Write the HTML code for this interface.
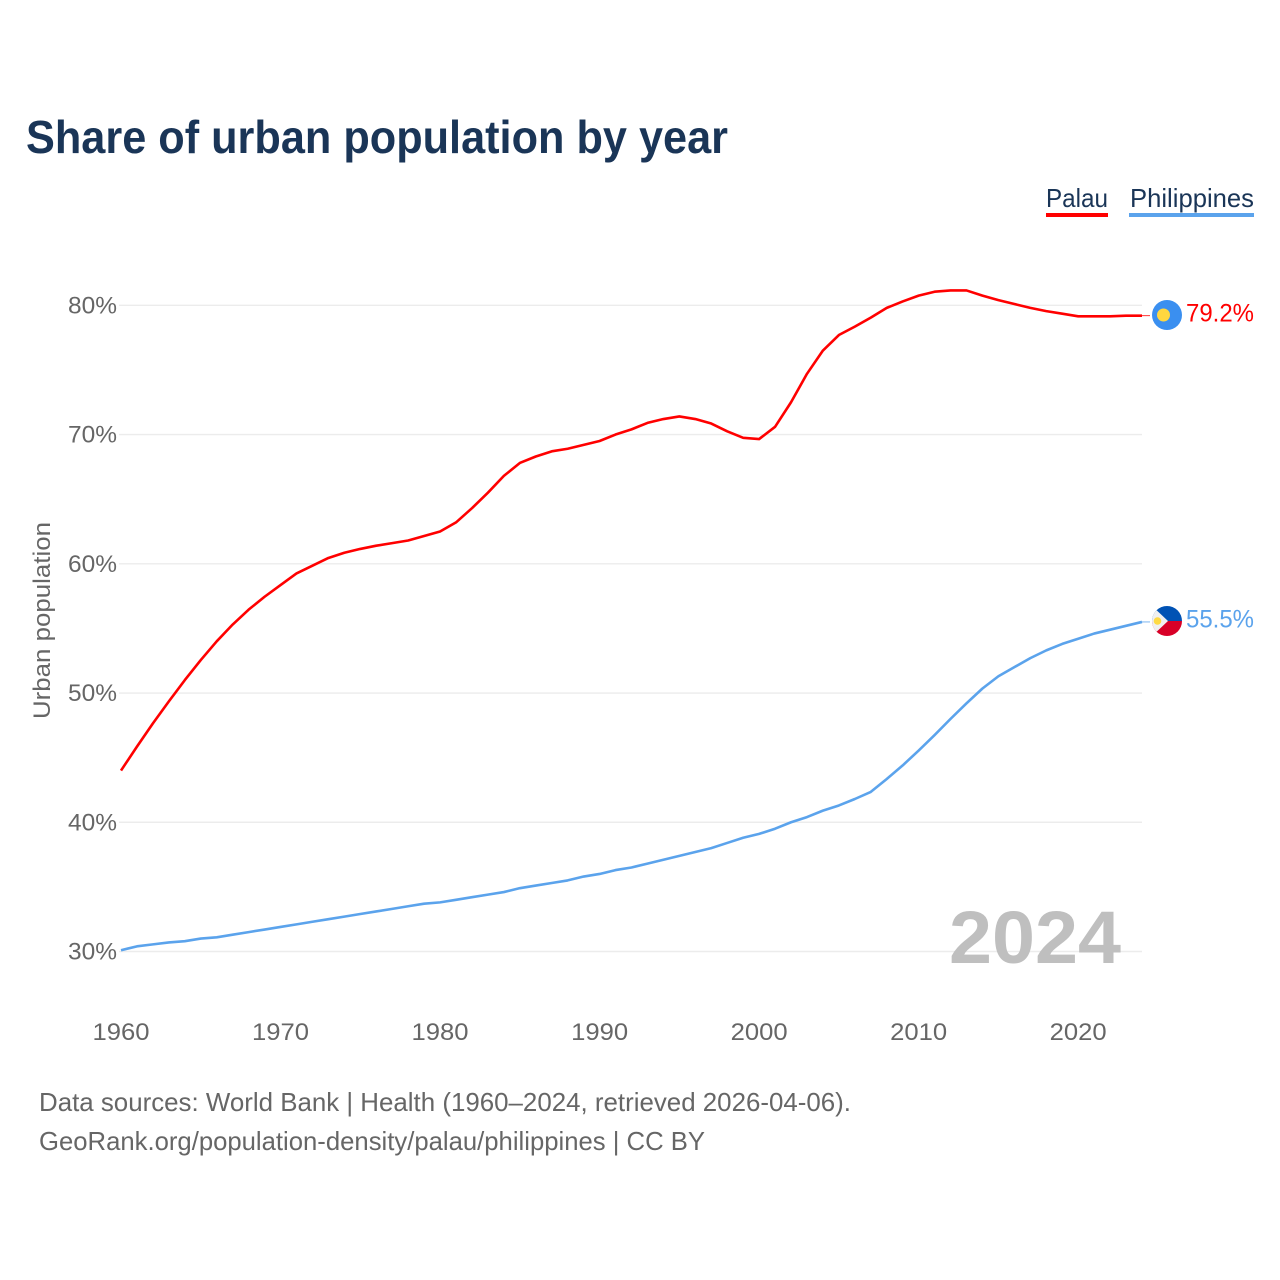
<!DOCTYPE html>
<html lang="en">
<head>
<meta charset="utf-8">
<title>Share of urban population by year</title>
<style>
html,body{margin:0;padding:0;background:#fff;}
svg{display:block;font-family:"Liberation Sans",sans-serif;}
</style>
</head>
<body>
<svg id="chart" width="1280" height="1280" viewBox="0 0 1280 1280" xmlns="http://www.w3.org/2000/svg">
  <rect x="0" y="0" width="1280" height="1280" fill="#ffffff"/>
  <text x="26" y="153" font-size="46" font-weight="700" fill="#1a3557" textLength="702" lengthAdjust="spacingAndGlyphs">Share of urban population by year</text>

  <g>
    <text x="1046" y="207" font-size="26" fill="#1a3557" textLength="62" lengthAdjust="spacingAndGlyphs">Palau</text>
    <rect x="1046" y="213" width="62" height="4" fill="#ff0000"/>
  </g>
  <g>
    <text x="1130" y="207" font-size="26" fill="#1a3557" textLength="124" lengthAdjust="spacingAndGlyphs">Philippines</text>
    <rect x="1129" y="213" width="125" height="4" fill="#5ba3ec"/>
  </g>

  <g id="grid"></g>
  <g id="y-ticks"></g>
  <g id="x-ticks"></g>
  <text transform="translate(50,620.5) rotate(-90)" text-anchor="middle" font-size="24" fill="#666666" textLength="197" lengthAdjust="spacingAndGlyphs">Urban population</text>

  <text x="949" y="963" font-size="74" font-weight="700" fill="#bfbfbf" textLength="172" lengthAdjust="spacingAndGlyphs">2024</text>

  <g id="series"></g>

  <g id="palau-end">
    <circle cx="1167" cy="315" r="15" fill="#3a8ff0"/>
    <circle cx="1163.5" cy="315" r="6.5" fill="#ffd740"/>
    <text id="palau-value" x="1186" y="321.5" font-size="25" fill="#ff0000" textLength="68" lengthAdjust="spacingAndGlyphs">79.2%</text>
  </g>
  <g id="philippines-end">
    <clipPath id="ph-clip"><circle cx="1167" cy="621" r="15"/></clipPath>
    <g clip-path="url(#ph-clip)">
      <rect x="1152" y="606" width="30" height="15" fill="#0052b4"/>
      <rect x="1152" y="621" width="30" height="15" fill="#d80027"/>
      <polygon points="1150,604 1168,621 1150,638" fill="#f0f0f0"/>
      <circle cx="1157.5" cy="621" r="3.8" fill="#ffda44"/>
    </g>
    <text id="philippines-value" x="1186" y="627.5" font-size="25" fill="#5ba3ec" textLength="68" lengthAdjust="spacingAndGlyphs">55.5%</text>
  </g>

  <text x="39" y="1111" font-size="26" fill="#666666" textLength="812" lengthAdjust="spacingAndGlyphs">Data sources: World Bank | Health (1960–2024, retrieved 2026-04-06).</text>
  <text x="39" y="1150" font-size="26" fill="#666666" textLength="666" lengthAdjust="spacingAndGlyphs">GeoRank.org/population-density/palau/philippines | CC BY</text>
</svg>
<script>
const startYear = 1960;
const palauValues = [44.0,45.85,47.65,49.35,51.0,52.55,54.0,55.3,56.45,57.45,58.35,59.25,59.85,60.45,60.85,61.15,61.4,61.6,61.8,62.15,62.5,63.2,64.3,65.5,66.8,67.8,68.3,68.7,68.9,69.2,69.5,70.0,70.4,70.9,71.2,71.4,71.2,70.85,70.25,69.75,69.65,70.6,72.5,74.7,76.5,77.7,78.35,79.05,79.8,80.3,80.75,81.05,81.15,81.15,80.75,80.4,80.1,79.8,79.55,79.35,79.15,79.15,79.15,79.2,79.2];
const philippinesValues = [30.1,30.4,30.55,30.7,30.8,31.0,31.1,31.3,31.5,31.7,31.9,32.1,32.3,32.5,32.7,32.9,33.1,33.3,33.5,33.7,33.8,34.0,34.2,34.4,34.6,34.9,35.1,35.3,35.5,35.8,36.0,36.3,36.5,36.8,37.1,37.4,37.7,38.0,38.4,38.8,39.1,39.5,40.0,40.4,40.9,41.3,41.8,42.35,43.35,44.4,45.55,46.75,48.0,49.2,50.35,51.3,52.0,52.7,53.3,53.8,54.2,54.6,54.9,55.2,55.5];
const yTickValues = [30,40,50,60,70,80];
const xTickValues = [1960,1970,1980,1990,2000,2010,2020];

const NS = 'http://www.w3.org/2000/svg';
function xScale(year){ return 121 + (year - 1960) * 15.953; }
function yScale(value){ return 951.5 - (value - 30) * 12.924; }
function make(tag, attrs){
  const el = document.createElementNS(NS, tag);
  for (const k in attrs) el.setAttribute(k, attrs[k]);
  return el;
}
const grid = document.getElementById('grid');
const yTicks = document.getElementById('y-ticks');
const xTicks = document.getElementById('x-ticks');
const series = document.getElementById('series');

yTickValues.forEach(function(v){
  const line = make('line', {x1:119, x2:1142, y1:yScale(v), y2:yScale(v), stroke:'#ececec', 'stroke-width':1.4});
  
  
  grid.appendChild(line);
  const label = make('text', {x:117, y:yScale(v)+8, 'text-anchor':'end', 'font-size':24, fill:'#666666', textLength:49, lengthAdjust:'spacingAndGlyphs'});
  
  
  label.textContent = v + '%';
  yTicks.appendChild(label);
});
xTickValues.forEach(function(y){
  const label = make('text', {x:xScale(y), y:1040, 'text-anchor':'middle', 'font-size':24, fill:'#666666', textLength:57, lengthAdjust:'spacingAndGlyphs'});
  
  
  label.textContent = y;
  xTicks.appendChild(label);
});
function pathFor(values){
  return values.map(function(v, i){
    return (i ? 'L' : 'M') + xScale(startYear + i).toFixed(2) + ' ' + yScale(v).toFixed(2);
  }).join(' ');
}
function drawLine(values, color, name){
  const p = make('path', {d:pathFor(values), fill:'none', stroke:color, 'stroke-width':2.6, 'stroke-linejoin':'round'});
  
  
  series.appendChild(p);
  const last = values[values.length - 1];
  const lastX = xScale(startYear + values.length - 1);
  const lead = make('line', {x1:lastX, x2:lastX + 8, y1:yScale(last), y2:yScale(last), stroke:color, 'stroke-width':1, 'stroke-opacity':0.8});
  
  
  series.appendChild(lead);
}
drawLine(palauValues, '#ff0000', 'palau-line');
drawLine(philippinesValues, '#5ba3ec', 'philippines-line');
document.getElementById('palau-value').textContent = palauValues[palauValues.length - 1].toFixed(1) + '%';
document.getElementById('philippines-value').textContent = philippinesValues[philippinesValues.length - 1].toFixed(1) + '%';
</script>
</body>
</html>
